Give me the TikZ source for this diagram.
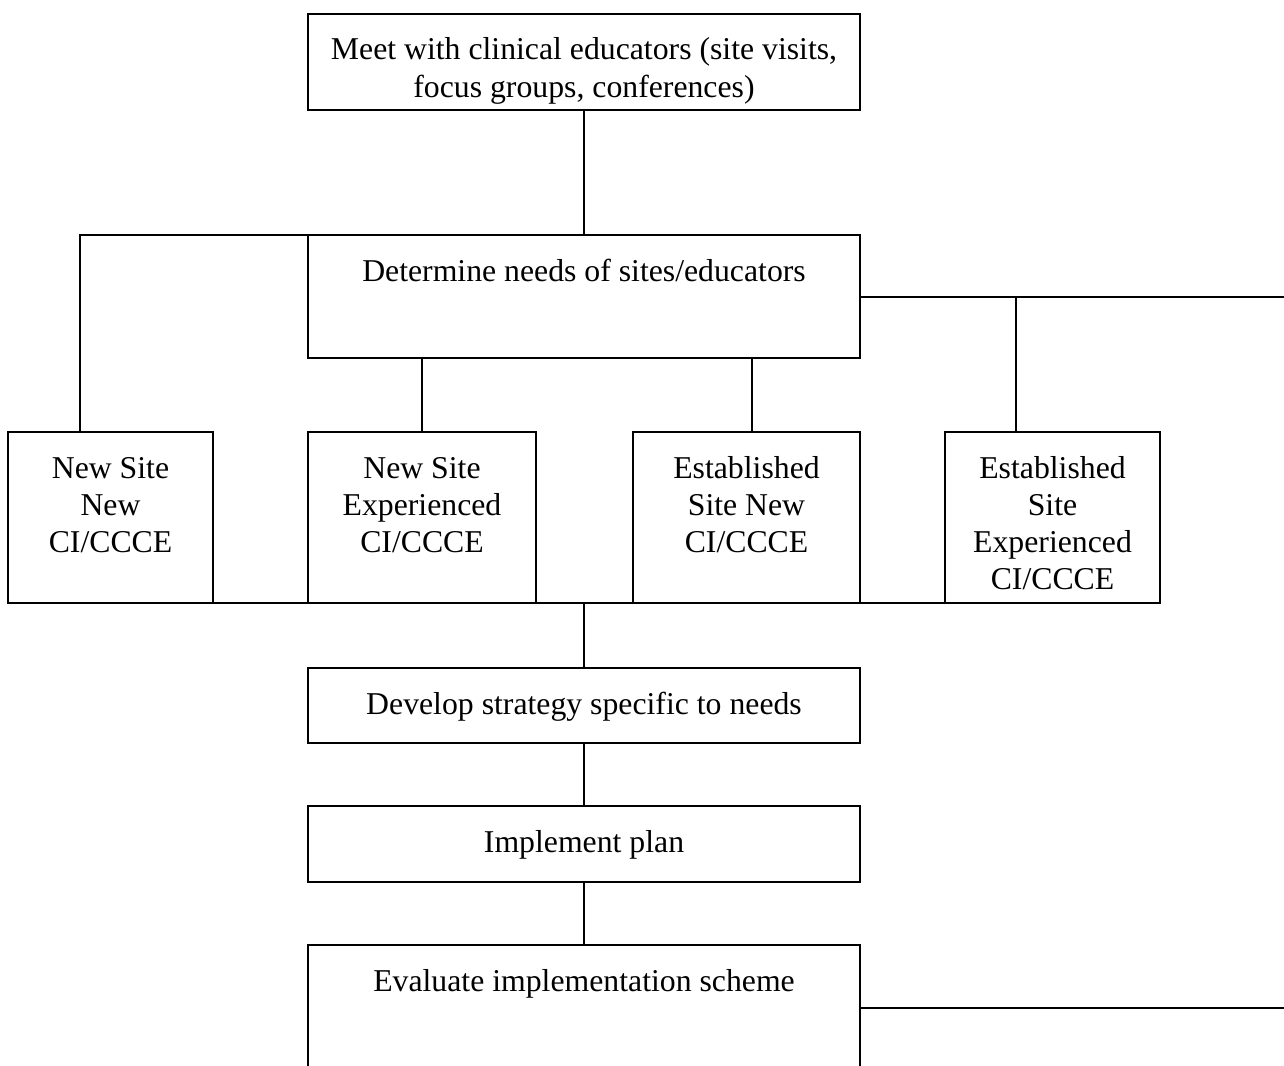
\documentclass[tikz,border=0pt]{standalone}
\usepackage{fontspec}
\setmainfont{Liberation Serif}
\usepackage{tikz}

\tikzset{
    stagebox/.style={draw, line width=0.8pt, anchor=north west, outer sep=0pt,
        inner xsep=0pt, inner ysep=0pt, align=center, text height=18.4pt,
        font=\fontsize{12.7}{14.9}\selectfont},
    link/.style={line width=0.8pt}
}

\begin{document}
\begin{tikzpicture}[x=0.4pt, y=-0.4pt]

    % Page frame
    \useasboundingbox (0,0) rectangle (1284,1065);
    \clip (0,0) rectangle (1284,1065);
    \coordinate (redge) at (1284,0);

    % Top boxes
    \node[stagebox, minimum width=220.8pt, text height=33.3pt, text depth=5.1pt] (meet) at (308,14)
        {Meet with clinical educators (site visits,\\focus groups, conferences)};
    \node[stagebox, minimum width=220.8pt, text depth=30.8pt] (det) at (308,235)
        {Determine needs of sites/educators};

    % The four kinds of site
    \node[stagebox, minimum width=82pt, text height=48.2pt, text depth=20.2pt] (nsnew) at (8,432)
        {New Site\\New\\CI/CCCE};
    \node[stagebox, minimum width=91.2pt, text height=48.2pt, text depth=20.2pt] (nsexp) at (308,432)
        {New Site\\Experienced\\CI/CCCE};
    \node[stagebox, minimum width=90.8pt, text height=48.2pt, text depth=20.2pt] (esnew) at (633,432)
        {Established\\Site New\\CI/CCCE};
    \node[stagebox, minimum width=86pt, text height=63.1pt, text depth=5.3pt] (esexp) at (945,432)
        {Established\\Site\\Experienced\\CI/CCCE};

    % Lower boxes
    \node[stagebox, minimum width=220.8pt, text depth=11.6pt] (dev) at (308,668)
        {Develop strategy specific to needs};
    \node[stagebox, minimum width=220.8pt, text depth=12pt] (impl) at (308,806)
        {Implement plan};
    \node[stagebox, minimum width=220.8pt, text depth=42.8pt] (eval) at (308,945)
        {Evaluate implementation scheme};

    % Connectors
    \draw[link] (meet.south) -- (det.north);
    \draw[link] (det.north west) -| ([xshift=-12.2pt]nsnew.north);
    \draw[link] (det.east) -- (det.east -| redge);
    \draw[link] ([xshift=-14.6pt]esexp.north) -- ([xshift=-14.6pt]esexp.north |- det.east);
    \draw[link] (nsexp.north) -- (nsexp.north |- det.south);
    \draw[link] ([xshift=2.2pt]esnew.north) -- ([xshift=2.2pt]esnew.north |- det.south);
    \draw[link] (nsnew.south west) -- (esexp.south east);
    \draw[link] (dev.north) -- (dev.north |- nsnew.south);
    \draw[link] (dev.south) -- (impl.north);
    \draw[link] (impl.south) -- (eval.north);
    \draw[link] ([yshift=-25.2pt]eval.north east) -- ([yshift=-25.2pt]eval.north east -| redge);

\end{tikzpicture}
\end{document}
